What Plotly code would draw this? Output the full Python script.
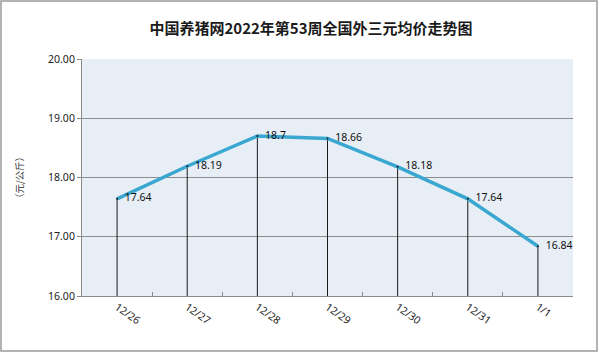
import plotly.graph_objects as go

categories = ["12/26", "12/27", "12/28", "12/29", "12/30", "12/31", "1/1"]
prices = [17.64, 18.19, 18.7, 18.66, 18.18, 17.64, 16.84]
labels = ["17.64", "18.19", "18.7", "18.66", "18.18", "17.64", "16.84"]
y_min, y_max = 16, 20
title_text = "中国养猪网2022年第53周全国外三元均价走势图"
y_title = "（元/公斤）"

L, R, T, B = 82, 27, 59, 57
W, H = 600, 353
pw, ph = W - L - R, H - T - B

fig = go.Figure()
fig.add_trace(go.Scatter(
    x=categories, y=prices,
    mode="lines+markers+text",
    line=dict(color="#3aa7d1", width=3.5),
    marker=dict(size=2, color="#1a1a1a"),
    text=["  " + t for t in labels],
    textposition="middle right",
    textfont=dict(family="Noto Sans", size=10.5, color="#111111"),
    error_y=dict(type="data", symmetric=False,
                 array=[0] * len(prices),
                 arrayminus=[p - y_min for p in prices],
                 color="#1a1a1a", thickness=1, width=0),
    cliponaxis=False,
    hoverinfo="skip",
))

fig.add_shape(type="rect", xref="paper", yref="paper",
              x0=(1 - L) / pw, x1=(597 - L) / pw,
              y0=(T + ph - 351) / ph, y1=(T + ph - 1) / ph,
              line=dict(color="#9a9a9a", width=1.5), fillcolor="rgba(0,0,0,0)",
              layer="below")

fig.update_layout(
    width=W, height=H,
    margin=dict(l=L, r=R, t=T, b=B),
    paper_bgcolor="white",
    plot_bgcolor="#e7eef6",
    showlegend=False,
    title=dict(text=title_text, x=311 / W, xanchor="center", y=1 - 29 / H, yanchor="middle",
               font=dict(family="Noto Sans CJK SC", size=15, color="#1a1a1a", weight=600)),
    xaxis=dict(
        type="category", range=[-0.5, 6.5],
        showgrid=False, showline=True, linecolor="#8a8a8a", linewidth=1,
        ticks="inside", tickson="boundaries", ticklen=4, tickcolor="#8a8a8a",
        tickangle=35,
        tickfont=dict(family="Noto Sans", size=10.5, color="#222222"),
        zeroline=False, fixedrange=True,
    ),
    yaxis=dict(
        range=[y_min, y_max], dtick=1, tickformat=".2f",
        showgrid=True, gridcolor="#8c8c8c", gridwidth=1,
        showline=True, linecolor="#8a8a8a", linewidth=1,
        ticks="outside", ticklen=4, tickcolor="#8a8a8a",
        tickfont=dict(family="Noto Sans", size=10.5, color="#222222"),
        title=dict(text=y_title, standoff=22,
                   font=dict(family="Noto Sans CJK SC", size=9.5, color="#333333")),
        zeroline=False, fixedrange=True,
    ),
)

fig.write_html("out.html")
